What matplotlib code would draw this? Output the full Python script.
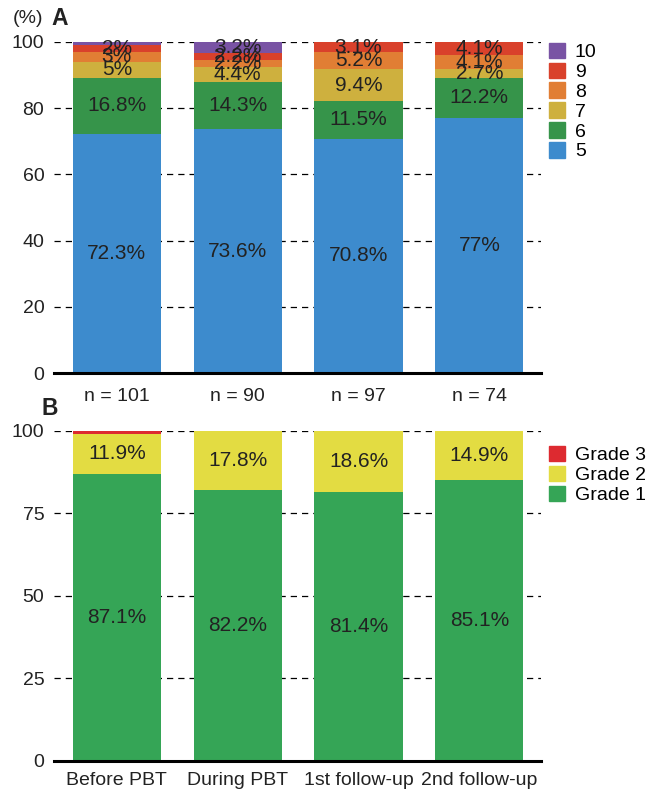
import numpy as np
import matplotlib
matplotlib.use("Agg")
import matplotlib.pyplot as plt
from matplotlib.patches import Patch

plt.rcParams['font.family'] = ['Liberation Sans', 'DejaVu Sans']

# ------------------------------------------------------------
# data
# ------------------------------------------------------------
groups = ["Before PBT", "During PBT", "1st follow-up", "2nd follow-up"]
n_labels = ["n = 101", "n = 90", "n = 97", "n = 74"]

# panel A: score 5..10 (%)
score_names = ["5", "6", "7", "8", "9", "10"]
score_5 = [72.3, 73.6, 70.8, 77.0]
score_6 = [16.8, 14.3, 11.5, 12.2]
score_7 = [5.0, 4.4, 9.4, 2.7]
score_8 = [3.0, 2.2, 5.2, 4.1]
score_9 = [2.0, 2.2, 3.1, 4.1]
score_10 = [1.0, 3.2, 0.0, 0.0]
score_colors = ["#3d8bcd", "#36944a", "#ceb03e", "#e17e34", "#d9412b", "#7953a4"]

# panel B: grade (%)
grade_names = ["Grade 1", "Grade 2", "Grade 3"]
grade_1 = [87.1, 82.2, 81.4, 85.1]
grade_2 = [11.9, 17.8, 18.6, 14.9]
grade_3 = [1.0, 0.0, 0.0, 0.0]
grade_colors = ["#35a556", "#e3dc42", "#dd2a30"]


def fmt(v):
    return f"{round(v, 1):g}%"


def stacked(ax, series, colors, ticks, ticklabels):
    x = np.arange(len(groups))
    bottom = np.zeros(len(groups))
    for vals, c in zip(series, colors):
        vals = np.array(vals)
        ax.bar(x, vals, bottom=bottom, width=0.73, color=c, zorder=2)
        for xi, b, v in zip(x, bottom, vals):
            if v >= 1.5:  # 1% 的小段不标数字
                ax.text(xi, b + v / 2, fmt(v), ha="center", va="center",
                        fontsize=15, color="#222222", zorder=3)
        bottom += vals
    ax.set_xlim(-0.52, 3.51)
    ax.set_ylim(0, 100)
    ax.set_yticks(ticks)
    ax.set_xticks(x)
    ax.set_xticklabels(ticklabels)
    ax.yaxis.grid(True, linestyle=(0, (5, 4)), color="black", linewidth=0.9)
    ax.set_axisbelow(True)
    for s in ["top", "right", "left"]:
        ax.spines[s].set_visible(False)
    ax.spines["bottom"].set_linewidth(2.2)
    ax.tick_params(length=0, labelsize=14, colors="#222222")
    ax.tick_params(axis="y", pad=7)


fig = plt.figure(figsize=(6.62, 7.95), dpi=100)

axA = fig.add_axes([0.0816, 0.5308, 0.7356, 0.4164])
stacked(axA, [score_5, score_6, score_7, score_8, score_9, score_10],
        score_colors, [0, 20, 40, 60, 80, 100], n_labels)
axA.tick_params(axis="x", pad=11)

axB = fig.add_axes([0.0816, 0.0428, 0.7356, 0.4151])
stacked(axB, [grade_1, grade_2, grade_3], grade_colors,
        [0, 25, 50, 75, 100], groups)
axB.tick_params(axis="x", pad=8)

# legends
legend_kw = dict(loc="upper left", frameon=False, fontsize=14,
                 handlelength=0.85, handleheight=0.85, handletextpad=0.5,
                 labelspacing=0.07, borderaxespad=0)
hA = [Patch(color=c, label=l) for c, l in zip(score_colors, score_names)][::-1]
fig.legend(handles=hA, bbox_to_anchor=(0.817, 0.956), **legend_kw)
hB = [Patch(color=c, label=l) for c, l in zip(grade_colors, grade_names)][::-1]
fig.legend(handles=hB, bbox_to_anchor=(0.817, 0.449), **legend_kw)

# panel letters
fig.text(0.019, 0.977, "(%)", fontsize=14, va="center", color="#222222")
fig.text(0.078, 0.977, "A", fontsize=16.5, fontweight="bold", va="center", color="#222222")
fig.text(0.062, 0.486, "B", fontsize=16.5, fontweight="bold", va="center", color="#222222")

fig.savefig("out.png", dpi=100)
